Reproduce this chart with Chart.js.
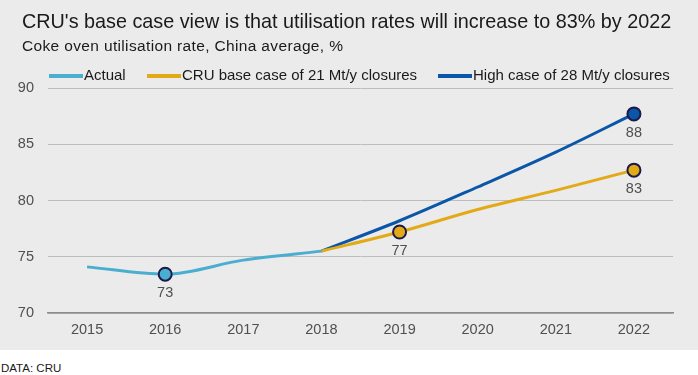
<!DOCTYPE html>
<html>
<head>
<meta charset="utf-8">
<script src="https://cdn.jsdelivr.net/npm/chart.js@4.4.1/dist/chart.umd.min.js"></script>
<style>
  body { margin: 0; background: #fff; font-family: "Liberation Sans", Arial, sans-serif; }
  #panel { position: relative; width: 698px; height: 350px; background: #ebebeb; }
  #title { position: absolute; left: 22px; top: 10px; font-size: 19.8px; color: #1a1a1a; white-space: nowrap; }
  #subtitle { position: absolute; left: 22px; top: 37px; font-size: 15.5px; letter-spacing: 0.35px; color: #1a1a1a; white-space: nowrap; }
  #legend { position: absolute; left: 0; top: 66px; font-size: 15px; color: #1a1a1a; white-space: nowrap; }
  .item { position: absolute; top: 0; }
  .swatch { position: absolute; top: 8px; width: 34px; height: 3.5px; }
  .item span.txt { position: absolute; top: 0; }
  #chartWrap { position: absolute; left: 0; top: 0; width: 698px; height: 350px; }
  #source { position: absolute; left: 1px; top: 362px; font-size: 11.5px; color: #1a1a1a; }
</style>
</head>
<body>
<div id="panel">
  <div id="chartWrap"><canvas id="chart" width="698" height="350"></canvas></div>
  <div id="title">CRU's base case view is that utilisation rates will increase to 83% by 2022</div>
  <div id="subtitle">Coke oven utilisation rate, China average, %</div>
  <div id="legend"></div>
</div>
<div id="source">DATA: CRU</div>
<script>
// 数据
const years = ['2015', '2016', '2017', '2018', '2019', '2020', '2021', '2022'];
const actual = [74.1, 73.45, 74.7, 75.5, null, null, null, null];
const baseCase = [null, null, null, 75.5, 77.2, 79.2, 80.9, 82.7];
const highCase = [null, null, null, 75.5, 78.2, 81.2, 84.3, 87.7];
const yTicks = [70, 75, 80, 85, 90];

// 带标记的点
const actualMarks = [0, 1, 0, 0, 0, 0, 0, 0];
const baseMarks = [0, 0, 0, 0, 1, 0, 0, 1];
const highMarks = [0, 0, 0, 0, 0, 0, 0, 1];

const seriesNames = ['Actual', 'CRU base case of 21 Mt/y closures', 'High case of 28 Mt/y closures'];
const colors = ['#4aaed0', '#e2aa17', '#0a56a8'];
const legendX = [49, 147, 438];

// 图例
const legend = document.getElementById('legend');
seriesNames.forEach((name, i) => {
  const el = document.createElement('div');
  el.className = 'item';
  el.style.left = legendX[i] + 'px';
  el.innerHTML = `<div class="swatch" style="left:0;background:${colors[i]}"></div><span class="txt" style="left:35px">${name}</span>`;
  legend.appendChild(el);
});

function makeDataset(label, data, marks, color) {
  return {
    label: label,
    data: data,
    borderColor: color,
    backgroundColor: color,
    borderWidth: 3,
    pointRadius: marks.map(m => m ? 6.5 : 0),
    pointBorderColor: '#1c1a4a',
    pointBorderWidth: 2,
    pointBackgroundColor: color,
    cubicInterpolationMode: 'monotone',
    spanGaps: false,
    marks: marks
  };
}

// 数据标签插件
const labelPlugin = {
  id: 'pointLabels',
  afterDatasetsDraw(chart) {
    const ctx = chart.ctx;
    ctx.save();
    ctx.font = '14.5px "Liberation Sans", Arial, sans-serif';
    ctx.fillStyle = '#505050';
    ctx.textAlign = 'center';
    ctx.textBaseline = 'top';
    chart.data.datasets.forEach((ds, di) => {
      const meta = chart.getDatasetMeta(di);
      ds.marks.forEach((m, i) => {
        if (!m) return;
        const pt = meta.data[i];
        ctx.fillText(String(Math.round(ds.data[i])), pt.x, pt.y + 12);
      });
    });
    ctx.restore();
  }
};

new Chart(document.getElementById('chart').getContext('2d'), {
  type: 'line',
  data: {
    labels: years,
    datasets: [
      makeDataset(seriesNames[0], actual, actualMarks, colors[0]),
      makeDataset(seriesNames[1], baseCase, baseMarks, colors[1]),
      makeDataset(seriesNames[2], highCase, highMarks, colors[2])
    ]
  },
  options: {
    responsive: false,
    animation: false,
    devicePixelRatio: 1,
    layout: { padding: { left: 0, top: 88, right: 25, bottom: 0 } },
    plugins: {
      legend: { display: false },
      tooltip: { enabled: false }
    },
    scales: {
      x: {
        offset: true,
        grid: { display: false, drawTicks: false },
        border: { color: '#8c8c8c', width: 1.5 },
        ticks: { color: '#505050', font: { size: 14.5, family: '"Liberation Sans", Arial, sans-serif' }, padding: 8 },
        afterFit(scale) { scale.height = 37; }
      },
      y: {
        min: 70,
        max: 90,
        afterBuildTicks(scale) { scale.ticks = yTicks.map(v => ({ value: v })); },
        grid: { color: '#bdbdbd', lineWidth: 1, drawTicks: false },
        border: { display: false },
        ticks: { color: '#505050', font: { size: 14.5, family: '"Liberation Sans", Arial, sans-serif' }, padding: 14 },
        afterFit(scale) { scale.width = 48; }
      }
    }
  },
  plugins: [labelPlugin]
});
</script>
</body>
</html>
